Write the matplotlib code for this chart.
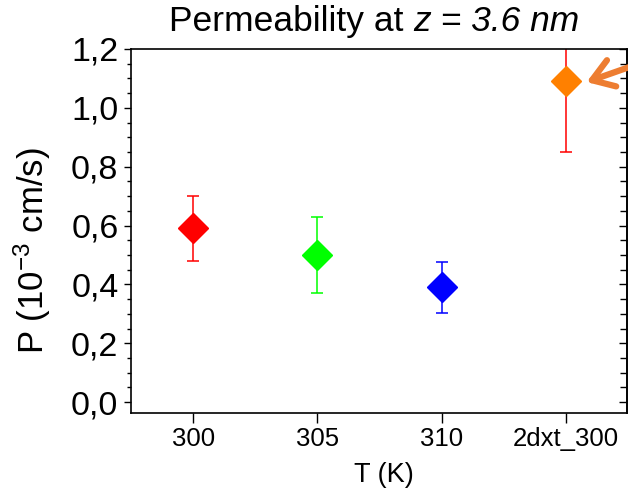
import matplotlib
matplotlib.use("Agg")
import matplotlib.pyplot as plt
from matplotlib.ticker import MultipleLocator, FuncFormatter, NullFormatter

plt.rcParams['font.family'] = ['Liberation Sans', 'DejaVu Sans']
plt.rcParams['mathtext.fontset'] = 'custom'
plt.rcParams['mathtext.rm'] = 'Liberation Sans'
plt.rcParams['mathtext.it'] = 'Liberation Sans:italic'

categories = ["300", "305", "310", "2dxt_300"]
values = [0.59, 0.50, 0.39, 1.09]
errors = [0.11, 0.13, 0.087, 0.24]
marker_colors = ["#ff0000", "#00ff00", "#0000ff", "#ff8000"]
error_colors = ["#ff0000", "#00ff00", "#0000ff", "#ff0000"]
title_plain = "Permeability at "
title_italic = "z = 3.6 nm"

W, H = 628, 497
fig = plt.figure(figsize=(W/100, H/100), dpi=100)
ax = fig.add_axes([131/W, 1-413/H, (627-131)/W, (413-49)/H])

for i, (v, e, mc, ec) in enumerate(zip(values, errors, marker_colors, error_colors)):
    ax.errorbar(i, v, yerr=e, fmt='none', ecolor=ec, elinewidth=1.1, capsize=4, capthick=1.1, zorder=2)
    ax.plot(i, v, marker='D', markersize=15, color=mc, linestyle='none', zorder=3)

ax.set_xlim(-0.5, 3.49)
ax.set_ylim(-0.037, 1.2)
ax.set_xticks(range(len(categories)))
ax.set_xticklabels(categories, fontsize=18.5)
ax.yaxis.set_major_locator(MultipleLocator(0.2))
ax.yaxis.set_minor_locator(MultipleLocator(0.05))
ax.yaxis.set_major_formatter(FuncFormatter(lambda v, p: f"{v:.1f}".replace('.', ',')))
ax.tick_params(axis='y', which='major', labelsize=24.5, direction='out', length=5, width=1, pad=4)
ax.tick_params(axis='y', which='minor', direction='out', length=3, width=1)
ax.tick_params(axis='x', direction='out', length=7, width=1, pad=3)

sec = ax.secondary_yaxis('right')
sec.yaxis.set_major_locator(MultipleLocator(0.2))
sec.yaxis.set_minor_locator(MultipleLocator(0.05))
sec.yaxis.set_major_formatter(NullFormatter())
sec.tick_params(axis='y', which='major', direction='in', length=6, width=1)
sec.tick_params(axis='y', which='minor', direction='in', length=5, width=1)
sec.spines['right'].set_linewidth(1.2)

ax.set_xlabel("T (K)", fontsize=19.5, labelpad=12)
ax.xaxis.set_label_coords(0.51, -0.135)
ax.xaxis.label.set_va('top')
ax.set_ylabel(r"P (10$^{-3}$ cm/s)", fontsize=25)
ax.yaxis.set_label_coords(-0.158, 0.445)
for s in ax.spines.values():
    s.set_linewidth(1.2)

# title made of plain + italic part, centred above the axes
renderer = fig.canvas.get_renderer()
ty = 1 - 31/H
t1 = fig.text(0, ty, title_plain, fontsize=25.5, va='baseline', ha='left')
t2 = fig.text(0, ty, title_italic, fontsize=25.5, style='italic', va='baseline', ha='left')
w1 = t1.get_window_extent(renderer).width
w2 = t2.get_window_extent(renderer).width
x0 = 374 - (w1 + w2) / 2
t1.set_x(x0 / W)
t2.set_x((x0 + w1) / W)

ax.annotate("", xy=(584, H-83), xycoords='figure pixels',
            xytext=(655, H-58), textcoords='figure pixels',
            arrowprops=dict(arrowstyle='->,head_length=1.5,head_width=1.0', color='#ED7D31', lw=4.5),
            annotation_clip=False)

fig.savefig("out.png", dpi=100)
